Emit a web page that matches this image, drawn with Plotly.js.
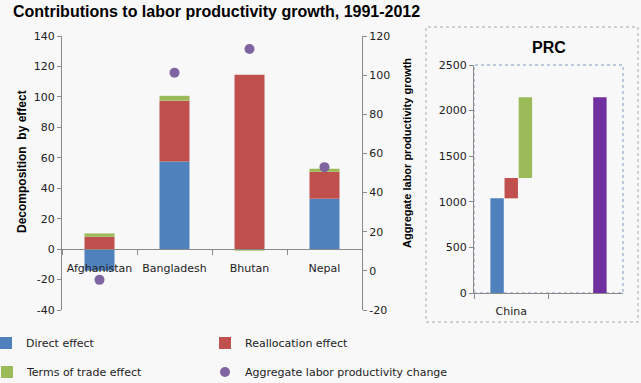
<!DOCTYPE html>
<html><head><meta charset="utf-8">
<script src="https://cdn.plot.ly/plotly-3.0.1.min.js"></script>
<style>html,body{margin:0;padding:0;background:#f8f8f8}#chart{width:641px;height:383px}</style>
</head><body><div id="chart"></div>
<script>
// ---- data ----
const countries = ["Afghanistan", "Bangladesh", "Bhutan", "Nepal"];
const directEffect = [-14.2, 57.6, 0, 33.1];
const reallocationEffect = [8.1, 39.9, 114.5, 17.7];
const termsOfTradeEffect = [2.2, 3.2, -1.0, 2.0];
const aggregateChange = [-4.6, 101.2, 113.4, 53.0];

const prcCategories = ["China", " "];
const prcDirect = [1038];
const prcReallocation = [223];
const prcTerms = [885];
const prcAggregate = [2146];

const leftTickVals = [-40, -20, 0, 20, 40, 60, 80, 100, 120, 140];
const rightTickVals = [-20, 0, 20, 40, 60, 80, 100, 120];
const prcTickVals = [0, 500, 1000, 1500, 2000, 2500];

// ---- layout helpers ----
const W = 641, H = 383;
const fx = p => p / W;
const fy = p => 1 - p / H;
const FONT = "DejaVu Sans, Verdana, sans-serif";
const BOLD = "Liberation Sans, Arial, sans-serif";
const AX = "#8a8a8a";
const C = {blue: "#4f81bd", red: "#c0504d", green: "#9bbb59", purple: "#8064a2", prcPurple: "#7030a0"};

const leftRange = [leftTickVals[0], leftTickVals[leftTickVals.length - 1]];
const rightRange = [rightTickVals[0], rightTickVals[rightTickVals.length - 1]];
const prcRange = [prcTickVals[0], prcTickVals[prcTickVals.length - 1]];
const yDom = [fy(310), fy(36)];
const zeroPos = yDom[0] + (0 - leftRange[0]) / (leftRange[1] - leftRange[0]) * (yDom[1] - yDom[0]);

const traces = [
  {type: "bar", name: "Direct effect", x: countries, y: directEffect, xaxis: "x", yaxis: "y",
   marker: {color: C.blue}, legend: "legend"},
  {type: "bar", name: "Reallocation effect", x: countries, y: reallocationEffect, xaxis: "x", yaxis: "y",
   marker: {color: C.red}, legend: "legend2"},
  {type: "bar", name: "Terms of trade effect", x: countries, y: termsOfTradeEffect, xaxis: "x", yaxis: "y",
   marker: {color: C.green}, legend: "legend3"},
  {type: "scatter", mode: "markers", name: "Aggregate labor productivity change", x: countries, y: aggregateChange,
   xaxis: "x", yaxis: "y2", marker: {color: C.purple, size: 10}, legend: "legend4"},
  // PRC panel (floating bars)
  {type: "bar", x: [prcCategories[0]], y: prcDirect, base: [0], xaxis: "x3", yaxis: "y3",
   width: 0.18, offset: -0.28, marker: {color: C.blue}, showlegend: false},
  {type: "bar", x: [prcCategories[0]], y: prcReallocation, base: [prcDirect[0]], xaxis: "x3", yaxis: "y3",
   width: 0.18, offset: -0.09, marker: {color: C.red}, showlegend: false},
  {type: "bar", x: [prcCategories[0]], y: prcTerms, base: [prcDirect[0] + prcReallocation[0]], xaxis: "x3", yaxis: "y3",
   width: 0.18, offset: 0.1, marker: {color: C.green}, showlegend: false},
  {type: "bar", x: [prcCategories[1]], y: prcAggregate, base: [0], xaxis: "x3", yaxis: "y3",
   width: 0.18, offset: 0.1, marker: {color: C.prcPurple}, showlegend: false}
];

const tickFont = {family: FONT, size: 11, color: "#222"};
const baseAxis = {showline: true, linecolor: AX, linewidth: 1, ticks: "outside", tickcolor: AX, ticklen: 4,
  showgrid: false, zeroline: false, tickfont: tickFont, fixedrange: true, automargin: false};
const numTicks = vals => ({tickmode: "array", tickvals: vals, ticktext: vals.map(v => String(v))});

function legendAt(xpx, ypx) {
  return {orientation: "h", x: fx(xpx), y: fy(ypx), xanchor: "left", yanchor: "middle",
    font: {family: FONT, size: 11, color: "#222"}, bgcolor: "rgba(0,0,0,0)", borderwidth: 0};
}

const layout = {
  width: W, height: H,
  margin: {l: 0, r: 0, t: 0, b: 0, autoexpand: false},
  paper_bgcolor: "#f8f8f8", plot_bgcolor: "rgba(0,0,0,0)",
  barmode: "relative", bargap: 0.6,
  title: {text: "<b>Contributions to labor productivity growth, 1991-2012</b>",
    font: {family: BOLD, size: 16, color: "#000"}, x: fx(13), xanchor: "left", y: 1 - 11 / H, yanchor: "middle"},
  xaxis: Object.assign({}, baseAxis, {domain: [fx(62), fx(362)], type: "category", range: [-0.5, 3.5],
    anchor: "free", position: zeroPos, tickson: "boundaries", ticklen: 5, tickangle: 0, ticklabelstandoff: 9}),
  yaxis: Object.assign({}, baseAxis, numTicks(leftTickVals), {domain: yDom, range: leftRange, anchor: "x"}),
  yaxis2: Object.assign({}, baseAxis, numTicks(rightTickVals), {overlaying: "y", side: "right", anchor: "x", range: rightRange}),
  xaxis3: Object.assign({}, baseAxis, {domain: [fx(474), fx(623)], anchor: "y3", type: "category", tickangle: 0,
    categoryorder: "array", categoryarray: prcCategories, range: [-0.5, 1.5], tickson: "boundaries", ticklen: 5,
    ticklabelstandoff: 8}),
  yaxis3: Object.assign({}, baseAxis, numTicks(prcTickVals), {domain: [fy(293), fy(65)], anchor: "x3", range: prcRange}),
  legend: legendAt(-14, 343),
  legend2: legendAt(205, 343),
  legend3: legendAt(-13, 372),
  legend4: legendAt(205, 372),
  annotations: [
    {text: "<b>PRC</b>", xref: "paper", yref: "paper", x: fx(549), y: fy(47), xanchor: "center", yanchor: "middle",
     showarrow: false, font: {family: BOLD, size: 16, color: "#000"}},
    {text: "<b>Decomposition  by effect</b>", xref: "paper", yref: "paper", x: fx(22), y: fy(162), textangle: -90,
     xanchor: "center", yanchor: "middle", showarrow: false, font: {family: BOLD, size: 12, color: "#000"}},
    {text: "<b>Aggregate labor productivity growth</b>", xref: "paper", yref: "paper", x: fx(407), y: fy(153), textangle: -90,
     xanchor: "center", yanchor: "middle", showarrow: false, font: {family: BOLD, size: 11, color: "#000"}}
  ],
  shapes: [
    {type: "rect", xref: "paper", yref: "paper", x0: fx(426), x1: fx(638), y0: fy(322), y1: fy(27),
     line: {color: "#a8a8a8", width: 1, dash: "dot"}},
    {type: "rect", xref: "x3 domain", yref: "y3 domain", x0: 0, x1: 1, y0: 0, y1: 1, layer: "below",
     line: {color: "#7f9cbf", width: 1, dash: "dot"}}
  ]
};

Plotly.newPlot("chart", traces, layout, {staticPlot: true, displayModeBar: false});
</script>
</body></html>
